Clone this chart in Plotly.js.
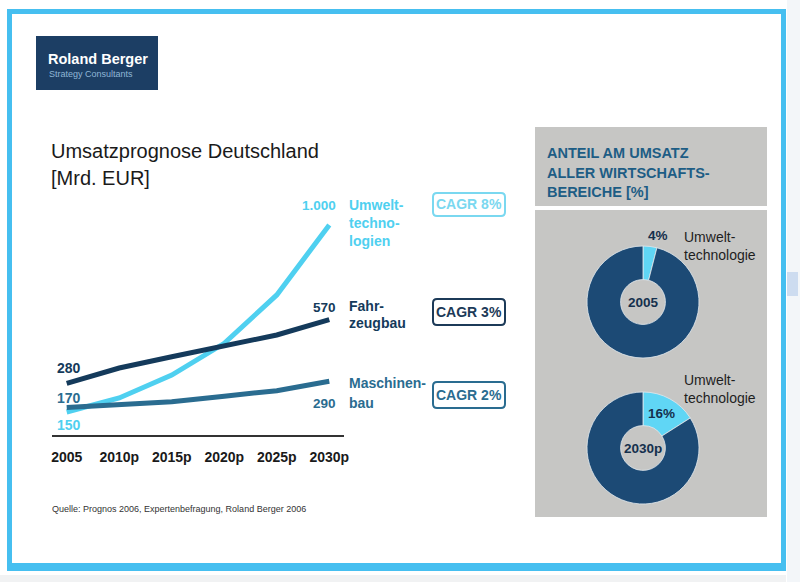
<!DOCTYPE html>
<html>
<head>
<meta charset="utf-8">
<script src="https://cdn.plot.ly/plotly-3.0.1.min.js"></script>
<style>
  html, body { margin: 0; padding: 0; background: #ffffff; }
  #chart { width: 800px; height: 582px; }
</style>
</head>
<body>
<div id="chart"></div>
<script>
// Umsatzprognose Deutschland [Mrd. EUR]
const years = ['2005', '2010p', '2015p', '2020p', '2025p', '2030p'];
const umwelt = [150, 214, 318, 462, 682, 1000];
const fahrzeugbau = [280, 350, 401, 452, 500, 570];
const maschinenbau = [170, 182, 197, 222, 247, 290];
const seriesNames = [['Umwelt-', 'techno-', 'logien'], ['Fahr-', 'zeugbau'], ['Maschinen-', 'bau']];
const cagr = [8, 3, 2];

// Anteil am Umsatz aller Wirtschaftsbereiche [%]
const shareYears = ['2005', '2030p'];
const shareUmwelt = [4, 16];
const shareLabel = ['Umwelt-', 'technologie'];

const W = 800, H = 582;
const px = x => x / W;
const py = y => 1 - y / H;

const FONT = '"Liberation Sans", Arial, sans-serif';
const C_LIGHT = '#4fd0f0';
const C_NAVY = '#143a5b';
const C_MID = '#2a6c90';
const C_PIE_DARK = '#1c4a75';
const seriesColors = [C_LIGHT, C_NAVY, C_MID];

const fmt = v => String(v).replace(/\B(?=(\d{3})+(?!\d))/g, '.');

// pixel rectangle → paper shape
function rect(x0, y0, x1, y1, fill) {
  return {
    type: 'rect', xref: 'paper', yref: 'paper', layer: 'below',
    x0: px(x0), x1: px(x1), y0: py(y1), y1: py(y0),
    fillcolor: fill, line: { width: 0 }
  };
}
// rounded outline box
function roundBox(x0, y0, x1, y1, r, color) {
  const p = (x, y) => px(x) + ',' + py(y);
  const d = 'M' + p(x0 + r, y0) + ' L' + p(x1 - r, y0) + ' Q' + p(x1, y0) + ' ' + p(x1, y0 + r) +
    ' L' + p(x1, y1 - r) + ' Q' + p(x1, y1) + ' ' + p(x1 - r, y1) +
    ' L' + p(x0 + r, y1) + ' Q' + p(x0, y1) + ' ' + p(x0, y1 - r) +
    ' L' + p(x0, y0 + r) + ' Q' + p(x0, y0) + ' ' + p(x0 + r, y0) + ' Z';
  return { type: 'path', xref: 'paper', yref: 'paper', path: d, line: { color: color, width: 2 } };
}
function label(text, x, y, opts) {
  opts = opts || {};
  return {
    text: text, xref: 'paper', yref: 'paper', x: px(x), y: py(y),
    xanchor: opts.anchor || 'left', yanchor: 'middle', showarrow: false,
    font: { family: FONT, size: opts.size || 14, color: opts.color || '#1a1a1a', weight: opts.bold ? 'bold' : 'normal' }
  };
}

const lineData = [umwelt, fahrzeugbau, maschinenbau];
const traces = lineData.map((vals, i) => ({
  type: 'scatter', mode: 'lines', x: years, y: vals,
  line: { color: seriesColors[i], width: 5 },
  hoverinfo: 'skip', showlegend: false
}));

// donuts
const pieCenters = [[643, 302], [643, 448]];
const R = 56;
shareUmwelt.forEach((v, i) => {
  const c = pieCenters[i];
  traces.push({
    type: 'pie', values: [v, 100 - v], sort: false, direction: 'clockwise', rotation: 0,
    hole: 0.4, textinfo: 'none', hoverinfo: 'skip', showlegend: false,
    marker: { colors: ['#60d6f5', C_PIE_DARK], line: { width: 1, color: 'rgba(225,232,238,0.8)' } },
    domain: { x: [px(c[0] - R), px(c[0] + R)], y: [py(c[1] + R), py(c[1] - R)] }
  });
});

const shapes = [
  // outer frame
  rect(7, 9, 786, 571, '#46bff0'),
  rect(12, 14, 781, 563, '#ffffff'),
  // side strip
  rect(787, 0, 800, 582, '#f3f6f9'),
  rect(787, 272, 798, 296, '#cddcf0'),
  rect(0, 575, 786, 582, '#f1f2f3'),
  // logo
  rect(36, 36, 158, 90, '#1c3e64'),
  // right panel
  rect(535, 127, 767, 206, '#c6c6c4'),
  rect(535, 210, 767, 517, '#c6c6c4')
];
const cagrBoxes = [[193, 216], [299, 325], [382, 408]];
const cagrColors = ['#7ad8f0', '#1c3a58', C_MID];
cagrBoxes.forEach((b, i) => shapes.push(roundBox(433, b[0], 505, b[1], 4, cagrColors[i])));

const annotations = [
  label('Roland Berger', 46, 59, { size: 14.5, bold: true, color: '#ffffff' }),
  label('Strategy Consultants', 47, 74, { size: 9, color: '#8fb6d6' }),
  label('Umsatzprognose Deutschland', 49, 151, { size: 20, color: '#1a1a1a' }),
  label('[Mrd. EUR]', 49, 178, { size: 20, color: '#1a1a1a' }),
  label('Quelle: Prognos 2006, Expertenbefragung, Roland Berger 2006', 50, 509, { size: 9, color: '#333333' })
];

// start / end values
const startY = [425, 368, 398];
const endY = [205, 307, 403];
lineData.forEach((vals, i) => {
  annotations.push(label(fmt(vals[0]), 55, startY[i], { size: 14, bold: true, color: seriesColors[i] }));
  annotations.push(label(fmt(vals[vals.length - 1]), 338, endY[i], { size: 13.5, bold: true, color: seriesColors[i], anchor: 'right' }));
});
// series names
const nameTop = [205, 306, 383];
const nameStep = [18, 17, 20];
seriesNames.forEach((lines, i) => {
  lines.forEach((t, k) => annotations.push(label(t, 347, nameTop[i] + k * nameStep[i], { size: 14, bold: true, color: seriesColors[i] })));
});
// CAGR
cagr.forEach((v, i) => {
  const b = cagrBoxes[i];
  annotations.push(label('CAGR ' + v + '%', 469, (b[0] + b[1]) / 2, { size: 14, bold: true, color: cagrColors[i], anchor: 'center' }));
});

// right panel
['ANTEIL AM UMSATZ', 'ALLER WIRTSCHAFTS-', 'BEREICHE [%]'].forEach((t, k) =>
  annotations.push(label(t, 545, 153 + k * 19.5, { size: 14.5, bold: true, color: '#1d5d85' })));
const pctPos = [[658, 235], [661, 413]];
const namePos = [[682, 237], [682, 380]];
shareUmwelt.forEach((v, i) => {
  annotations.push(label(v + '%', pctPos[i][0], pctPos[i][1], { size: 13.5, bold: true, color: '#15304d', anchor: 'center' }));
  annotations.push(label(shareYears[i], pieCenters[i][0], pieCenters[i][1], { size: 13.5, bold: true, color: '#15304d', anchor: 'center' }));
  shareLabel.forEach((t, k) => annotations.push(label(t, namePos[i][0], namePos[i][1] + k * 18, { size: 14, color: '#1e1e1e' })));
});

const layout = {
  width: W, height: H,
  margin: { l: 0, r: 0, t: 0, b: 0 },
  paper_bgcolor: '#ffffff', plot_bgcolor: 'rgba(0,0,0,0)',
  showlegend: false,
  xaxis: {
    domain: [px(52), px(344)], range: [-0.28, 5.28], type: 'category',
    showgrid: false, zeroline: false, showline: true, linecolor: '#333333', linewidth: 1.5,
    ticks: '', ticklabelstandoff: 9,
    tickfont: { family: FONT, size: 14, color: '#1a1a1a', weight: 'bold' },
    fixedrange: true
  },
  yaxis: {
    domain: [py(435), py(200)], range: [45.5, 1113.6],
    showgrid: false, zeroline: false, showline: false, showticklabels: false, ticks: '',
    fixedrange: true
  },
  shapes: shapes,
  annotations: annotations
};

Plotly.newPlot('chart', traces, layout, { displayModeBar: false, staticPlot: true });
</script>
</body>
</html>
